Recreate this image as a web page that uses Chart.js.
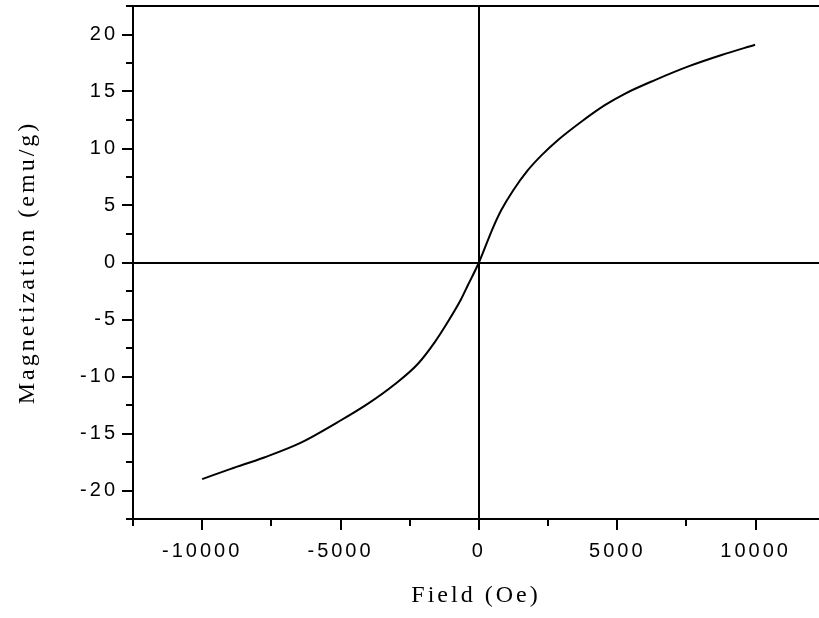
<!DOCTYPE html>
<html>
<head>
<meta charset="utf-8">
<script src="https://cdn.jsdelivr.net/npm/chart.js@4"></script>
<style>
  html, body { margin: 0; padding: 0; background: #fff; }
  canvas { display: block; }
</style>
</head>
<body>
<canvas id="chart" width="819" height="618"></canvas>
<script>
// Magnetization curve
const fieldOe = [-10000, -8965, -7760, -6430, -5100, -4020, -3050, -2210, -1600, -1120, -640, -400, 0,
                 500, 810, 1230, 1770, 2260, 2860, 3700, 4550, 5270, 6360, 7570, 8770, 9980];
const magnetization = [-19.0, -18.1, -17.1, -15.8, -14.0, -12.4, -10.7, -8.9, -7.0, -5.2, -3.2, -2.0, 0,
                       3.0, 4.6, 6.3, 8.1, 9.4, 10.75, 12.35, 13.8, 14.8, 16.0, 17.2, 18.2, 19.1];

// Axis ticks
const xMajorTicks = [-10000, -5000, 0, 5000, 10000];
const xMinorTicks = [-12500, -7500, -2500, 2500, 7500];
const yMajorTicks = [-20, -15, -10, -5, 0, 5, 10, 15, 20];
const yMinorTicks = [-22.5, -17.5, -12.5, -7.5, -2.5, 2.5, 7.5, 12.5, 17.5, 22.5];

// wide old-style lettering
const letterSpacing = {
    id: 'letterSpacing',
    beforeLayout(chart) { chart.ctx.letterSpacing = '3px'; },
    beforeDraw(chart) { chart.ctx.letterSpacing = '3px'; }
};

// outside tick marks (major + minor) and top frame line
const tickMarks = {
    id: 'tickMarks',
    afterDraw(chart) {
        const { ctx, chartArea: a, scales: { x, y } } = chart;
        ctx.save();
        ctx.strokeStyle = '#000';
        ctx.lineWidth = 2;
        ctx.beginPath();
        xMajorTicks.forEach(v => {
            const px = Math.round(x.getPixelForValue(v));
            ctx.moveTo(px, a.bottom); ctx.lineTo(px, a.bottom + 11);
        });
        xMinorTicks.forEach(v => {
            const px = Math.round(x.getPixelForValue(v));
            ctx.moveTo(px, a.bottom); ctx.lineTo(px, a.bottom + 7);
        });
        yMajorTicks.forEach(v => {
            const py = Math.round(y.getPixelForValue(v));
            ctx.moveTo(a.left, py); ctx.lineTo(a.left - 11, py);
        });
        yMinorTicks.forEach(v => {
            const py = Math.round(y.getPixelForValue(v));
            ctx.moveTo(a.left, py); ctx.lineTo(a.left - 7, py);
        });
        ctx.moveTo(a.left, a.top); ctx.lineTo(a.right, a.top);
        ctx.stroke();
        ctx.restore();
    }
};

const zeroOnly = c => (c.tick && c.tick.value === 0) ? '#000' : 'rgba(0,0,0,0)';

new Chart(document.getElementById('chart'), {
    type: 'line',
    data: {
        datasets: [{
            data: fieldOe.map((f, i) => ({ x: f, y: magnetization[i] })),
            borderColor: '#000',
            borderWidth: 2,
            pointRadius: 0,
            cubicInterpolationMode: 'monotone',
            fill: false
        }]
    },
    options: {
        responsive: false,
        animation: false,
        events: [],
        layout: { padding: { top: 6, right: 0, left: 0, bottom: 0 } },
        plugins: { legend: { display: false }, tooltip: { enabled: false } },
        scales: {
            x: {
                type: 'linear',
                min: -12500,
                max: 12290,
                afterBuildTicks: s => { s.ticks = xMajorTicks.map(v => ({ value: v })); },
                afterFit: s => { s.height = 99; s.paddingLeft = 0; s.paddingRight = 0; },
                border: { display: true, color: '#000', width: 2 },
                grid: { color: zeroOnly, lineWidth: 2, drawTicks: false },
                ticks: {
                    color: '#000',
                    padding: 20,
                    maxRotation: 0,
                    font: { family: 'Liberation Sans', size: 20 },
                    callback: v => String(v)
                },
                title: {
                    display: true,
                    text: 'Field (Oe)',
                    color: '#000',
                    font: { family: 'Liberation Serif', size: 24 },
                    padding: { top: 0, bottom: 8 }
                }
            },
            y: {
                type: 'linear',
                min: -22.5,
                max: 22.5,
                afterBuildTicks: s => { s.ticks = yMajorTicks.map(v => ({ value: v })); },
                afterFit: s => { s.width = 133; s.paddingTop = 0; s.paddingBottom = 0; },
                border: { display: true, color: '#000', width: 2 },
                grid: { color: zeroOnly, lineWidth: 2, drawTicks: false },
                ticks: {
                    color: '#000',
                    padding: 15,
                    font: { family: 'Liberation Sans', size: 20 },
                    callback: v => String(v)
                },
                title: {
                    display: true,
                    text: 'Magnetization (emu/g)',
                    color: '#000',
                    font: { family: 'Liberation Serif', size: 24 },
                    padding: { top: 13, bottom: 0 }
                }
            }
        }
    },
    plugins: [letterSpacing, tickMarks]
});
</script>
</body>
</html>
